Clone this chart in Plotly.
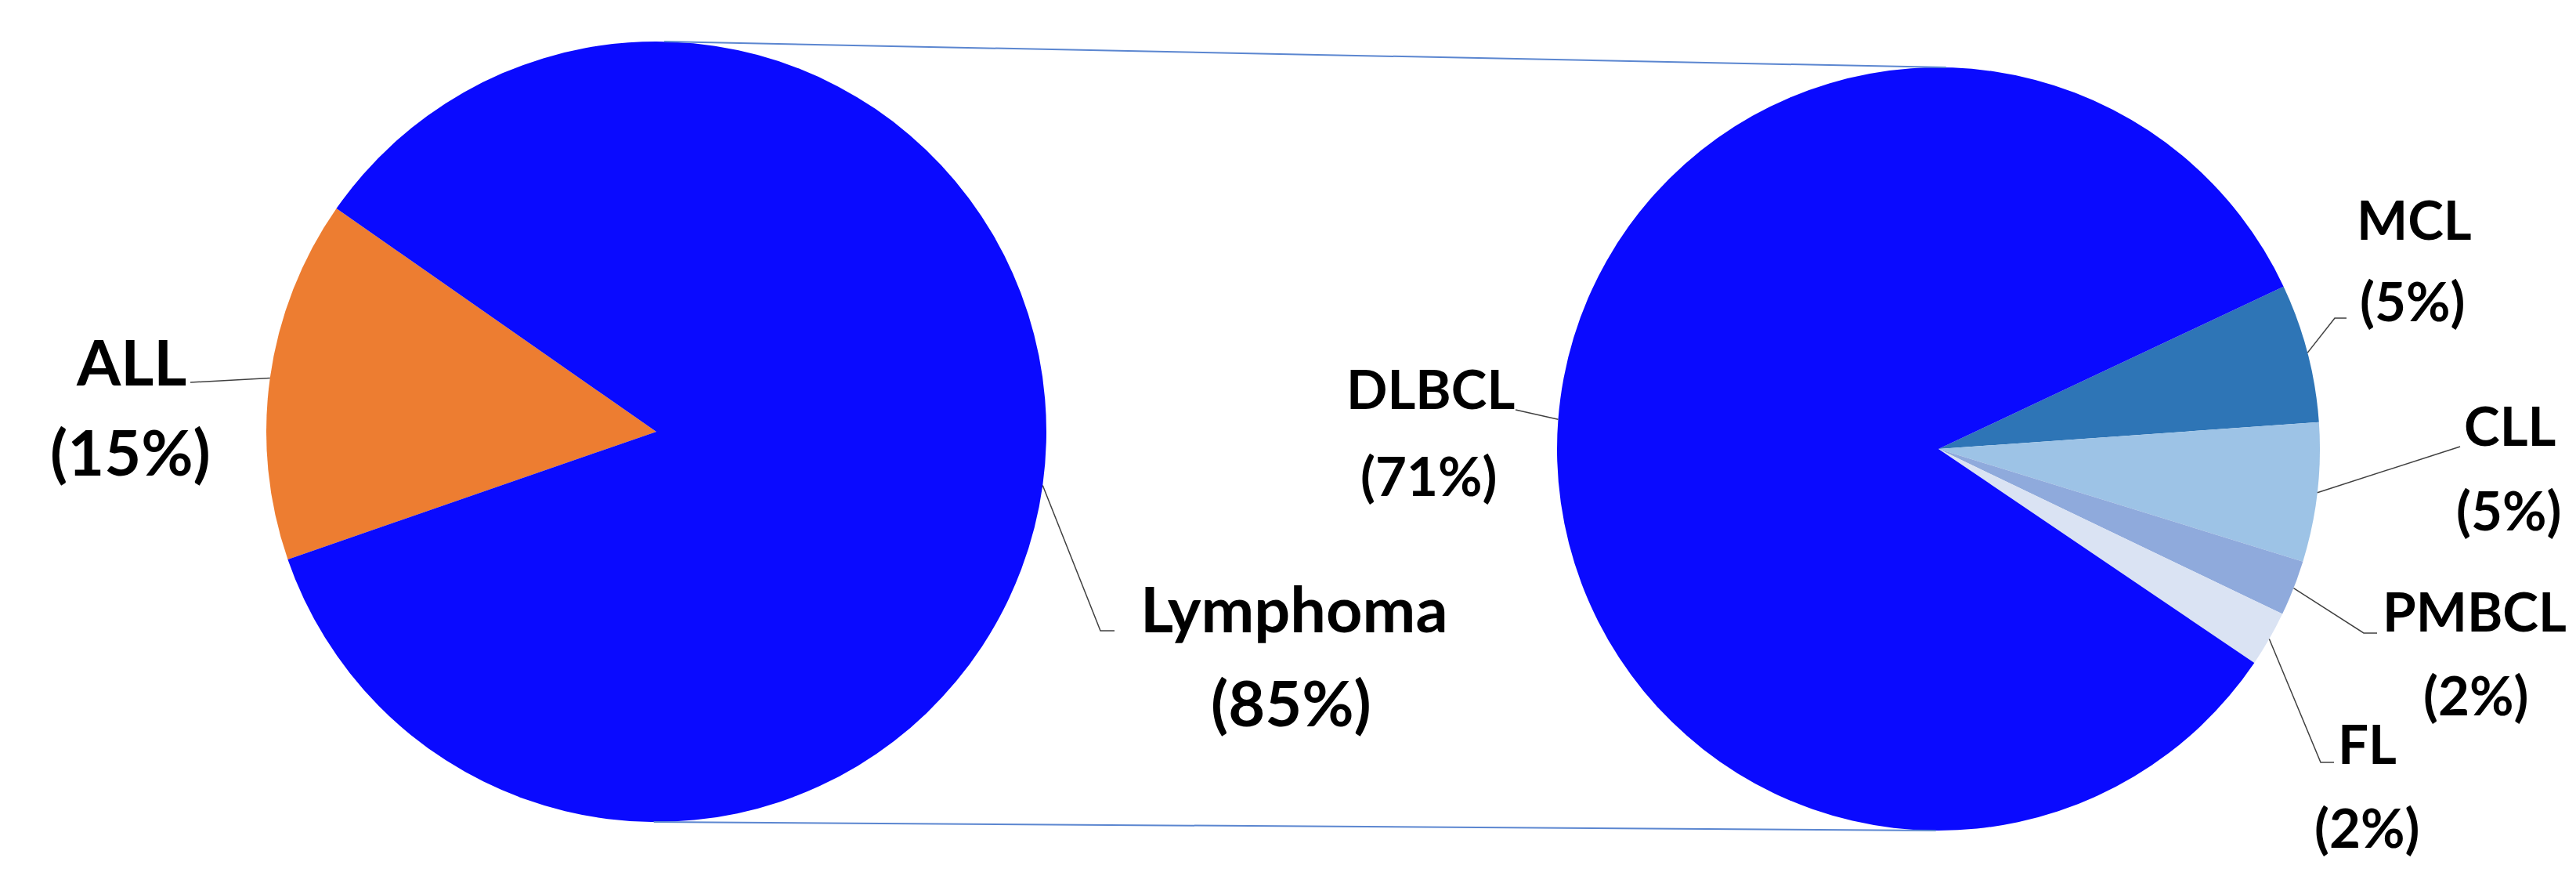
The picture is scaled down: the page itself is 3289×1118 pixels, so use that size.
# Plotly를 사용한 Pie-of-pie 차트 (ALL vs Lymphoma, Lymphoma 세분류)

import math
import plotly.graph_objects as go

# 캔버스 / 폰트 설정
W, H = 3289, 1118
FONT_FAMILY = "Lato"
LEFT_FONT_SIZE = 81
RIGHT_FONT_SIZE = 69
LEADER_COLOR = "#404040"
CONNECTOR_COLOR = "#5B86D0"

# 1. 데이터
left_labels = ["ALL", "Lymphoma"]
left_values = [15, 85]
left_colors = ["#ED7D31", "#0A0AFF"]

right_labels = ["MCL", "CLL", "PMBCL", "FL", "DLBCL"]
right_values = [5, 5, 2, 2, 71]
right_colors = ["#2E75B6", "#9DC3E6", "#8FAADC", "#DAE3F3", "#0A0AFF"]

# 2. 파이 위치 (픽셀, 위에서 아래로) 및 회전
LEFT_PIE = dict(cx=830, cy=543, r=498, rotation=-109.1)
RIGHT_PIE = dict(cx=2467, cy=565, r=487, rotation=64.8)

# 라벨 위치: name/pct = 각 줄의 중심, line = 리더선 꺾임점들 (픽셀)
LEFT_LABEL_POS = {
    "ALL": dict(name=(159, 452), pct=(158, 567), line=[(235, 480)]),
    "Lymphoma": dict(name=(1644, 768), pct=(1640, 887), line=[(1397, 797), (1415, 797)]),
}
RIGHT_LABEL_POS = {
    "MCL": dict(name=(3074, 271), pct=(3072, 375), line=[(2973, 398), (2988, 398)]),
    "CLL": dict(name=(3196, 534), pct=(3195, 642), line=[(3133, 562)]),
    "PMBCL": dict(name=(3151, 771), pct=(3153, 878), line=[(3010, 800), (3027, 800)]),
    "FL": dict(name=(3014, 940), pct=(3014, 1047), line=[(2955, 965), (2972, 965)]),
    "DLBCL": dict(name=(1818, 488), pct=(1816, 598), line=[(1927, 515)]),
}


def px(x, y):
    """픽셀 좌표 -> paper 좌표"""
    return x / W, 1 - y / H


def pie_domain(p):
    return dict(x=[(p["cx"] - p["r"]) / W, (p["cx"] + p["r"]) / W],
                y=[1 - (p["cy"] + p["r"]) / H, 1 - (p["cy"] - p["r"]) / H])


def slice_edge_points(values, p):
    """각 조각의 중앙 각도에서 원 둘레 위의 점 (시계방향, 12시 기준)"""
    total = sum(values)
    pts, acc = [], 0
    for v in values:
        a = math.radians(p["rotation"] + 360 * (acc + v / 2) / total)
        pts.append((p["cx"] + p["r"] * math.sin(a), p["cy"] - p["r"] * math.cos(a)))
        acc += v
    return pts


def outer_tangents(p1, p2):
    """두 원의 바깥 공통접선 (위, 아래)"""
    x1, y1, r1 = p1["cx"], p1["cy"], p1["r"]
    x2, y2, r2 = p2["cx"], p2["cy"], p2["r"]
    L = math.hypot(x2 - x1, y2 - y1)
    ux, uy = (x2 - x1) / L, (y2 - y1) / L
    vx, vy = uy, -ux
    a = (r1 - r2) / L
    b = math.sqrt(1 - a * a)
    lines = []
    for s in (1, -1):
        nx, ny = a * ux + s * b * vx, a * uy + s * b * vy
        lines.append(((x1 + r1 * nx, y1 + r1 * ny), (x2 + r2 * nx, y2 + r2 * ny)))
    return lines


fig = go.Figure()

# 3. 파이 그리기
fig.add_trace(go.Pie(
    labels=left_labels, values=left_values, sort=False, direction="clockwise",
    rotation=LEFT_PIE["rotation"], domain=pie_domain(LEFT_PIE),
    marker=dict(colors=left_colors, line=dict(width=0)),
    textinfo="none", hoverinfo="label+percent",
))
fig.add_trace(go.Pie(
    labels=right_labels, values=right_values, sort=False, direction="clockwise",
    rotation=RIGHT_PIE["rotation"], domain=pie_domain(RIGHT_PIE),
    marker=dict(colors=right_colors, line=dict(width=0)),
    textinfo="none", hoverinfo="label+value",
))

shapes, annotations = [], []

# 4. 두 파이를 잇는 연결선
for (a, b) in outer_tangents(LEFT_PIE, RIGHT_PIE):
    x0, y0 = px(*a)
    x1, y1 = px(*b)
    shapes.append(dict(type="line", xref="paper", yref="paper", x0=x0, y0=y0, x1=x1, y1=y1,
                       line=dict(color=CONNECTOR_COLOR, width=2)))

# 5. 라벨 + 리더선
def add_labels(labels, values, pie, pos, size):
    edges = slice_edge_points(values, pie)
    for lab, v, edge in zip(labels, values, edges):
        cfg = pos[lab]
        pts = [edge] + cfg["line"]
        path = "M " + " L ".join("%.5f,%.5f" % px(*q) for q in pts)
        shapes.append(dict(type="path", xref="paper", yref="paper", path=path,
                           line=dict(color=LEADER_COLOR, width=1.5)))
        for key, txt in (("name", lab), ("pct", f"({v}%)")):
            x, y = px(*cfg[key])
            annotations.append(dict(
                x=x, y=y, xref="paper", yref="paper", text=txt, showarrow=False,
                xanchor="center", yanchor="middle",
                font=dict(family=FONT_FAMILY, size=size, color="black", weight="bold"),
            ))


add_labels(left_labels, left_values, LEFT_PIE, LEFT_LABEL_POS, LEFT_FONT_SIZE)
add_labels(right_labels, right_values, RIGHT_PIE, RIGHT_LABEL_POS, RIGHT_FONT_SIZE)

fig.update_layout(
    width=W, height=H,
    margin=dict(l=0, r=0, t=0, b=0, pad=0),
    paper_bgcolor="white", plot_bgcolor="white",
    showlegend=False,
    shapes=shapes, annotations=annotations,
    font=dict(family=FONT_FAMILY),
)

fig.write_html("out.html")
